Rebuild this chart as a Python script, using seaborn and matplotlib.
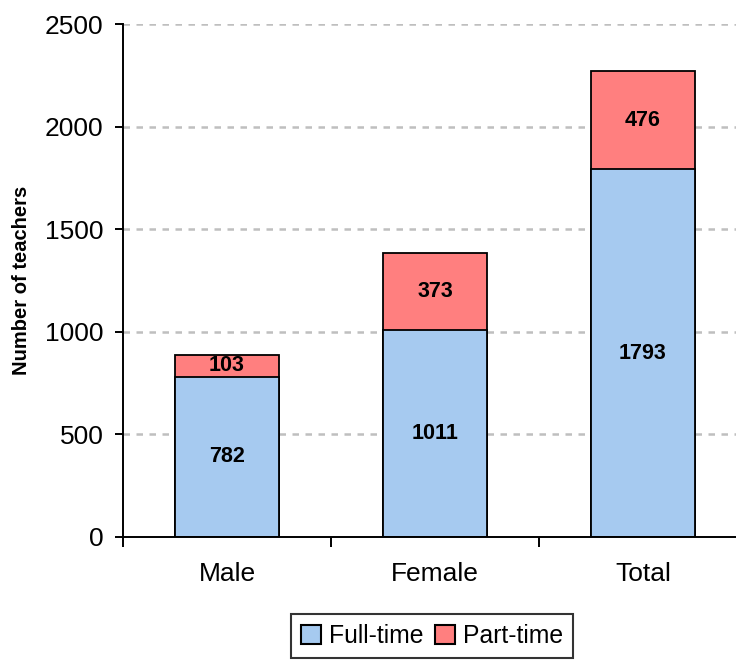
import matplotlib
matplotlib.use("Agg")
import matplotlib.pyplot as plt
import seaborn as sns
import pandas as pd
import numpy as np
from matplotlib.patches import Patch

# data
groups = ["Male", "Female", "Total"]
full_time = [782, 1011, 1793]
part_time = [103, 373, 476]
y_ticks = [0, 500, 1000, 1500, 2000, 2500]

sns.set_style("white")
plt.rcParams['font.family'] = ['Liberation Sans', 'DejaVu Sans']
plt.rcParams.update({'text.color': 'black', 'axes.labelcolor': 'black',
                     'xtick.color': 'black', 'ytick.color': 'black',
                     'xtick.bottom': True, 'ytick.left': True})

df = pd.DataFrame({"group": groups, "full": full_time, "part": part_time})
df["total"] = df["full"] + df["part"]

col_full = '#A6CAF0'
col_part = '#FF7F7F'

fig = plt.figure(figsize=(7.36, 6.6), dpi=100)
ax = fig.add_axes([123/736, 123/660, 624/736, 513/660])

# grid behind bars
for yv in y_ticks[1:]:
    ax.axhline(yv, color='#BFBFBF', lw=1.8, ls=(0, (2.6, 2.6)), zorder=0)

sns.barplot(data=df, x="group", y="total", color=col_part, edgecolor='black',
            linewidth=1.3, width=0.5, saturation=1, ax=ax, zorder=2)
sns.barplot(data=df, x="group", y="full", color=col_full, edgecolor='black',
            linewidth=1.3, width=0.5, saturation=1, ax=ax, zorder=3)

# value labels
for i, row in df.iterrows():
    ax.text(i, row["full"] / 2, str(row["full"]), ha='center', va='center',
            fontsize=15.5, fontweight='bold', zorder=5)
    ax.text(i, row["full"] + row["part"] / 2, str(row["part"]), ha='center', va='center',
            fontsize=15.5, fontweight='bold', zorder=5)

ax.set_xlim(-0.5, 2.5)
ax.set_ylim(0, 2500)
ax.set_yticks(y_ticks)
ax.set_xticks([0, 1, 2])
ax.set_xticklabels(groups)
ax.set_xticks([-0.5, 0.5, 1.5, 2.5], minor=True)
ax.tick_params(axis='x', which='major', length=0, labelsize=19, pad=18)
ax.tick_params(axis='x', which='minor', length=7, width=1.4, direction='out', color='black')
ax.tick_params(axis='y', length=6, width=1.4, direction='out', color='black', labelsize=19, pad=8)
ax.set_xlabel("")
ax.set_ylabel("Number of teachers", fontsize=14.5, fontweight='bold', labelpad=10)

for s in ['top', 'right']:
    ax.spines[s].set_visible(False)
for s in ['left', 'bottom']:
    ax.spines[s].set_color('black')
    ax.spines[s].set_linewidth(1.4)
    ax.spines[s].set_zorder(6)

handles = [Patch(facecolor=col_full, edgecolor='black', linewidth=1.5, label='Full-time'),
           Patch(facecolor=col_part, edgecolor='black', linewidth=1.5, label='Part-time')]
leg = fig.legend(handles=handles, loc='upper center', bbox_to_anchor=(432/736, 46/660),
                 ncol=2, fontsize=17.8, frameon=True, fancybox=False, handlelength=0.8,
                 handleheight=0.8, handletextpad=0.3, columnspacing=0.5,
                 borderpad=0.4, borderaxespad=0)
leg.get_frame().set_edgecolor('black')
leg.get_frame().set_linewidth(1.5)

fig.savefig("out.png", dpi=100)
